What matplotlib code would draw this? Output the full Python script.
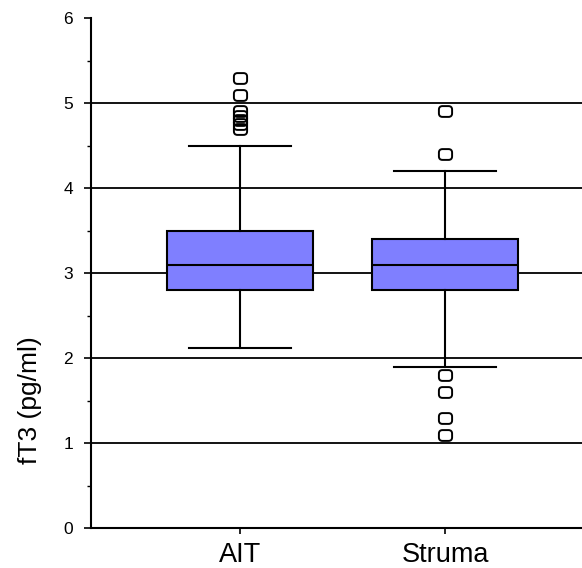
import matplotlib
matplotlib.use("Agg")
import matplotlib.pyplot as plt
from matplotlib.ticker import MultipleLocator
from matplotlib.patches import FancyBboxPatch

plt.rcParams['font.family'] = ['Liberation Sans', 'DejaVu Sans']

groups = ["AIT", "Struma"]
q1 = [2.8, 2.8]
median = [3.1, 3.1]
q3 = [3.5, 3.4]
whisker_low = [2.12, 1.9]
whisker_high = [4.5, 4.2]
outliers = [
    [5.3, 5.1, 4.9, 4.85, 4.8, 4.75, 4.7],
    [4.9, 4.4, 1.8, 1.6, 1.3, 1.1],
]

stats = []
for i, name in enumerate(groups):
    stats.append(dict(label=name, med=median[i], q1=q1[i], q3=q3[i],
                      whislo=whisker_low[i], whishi=whisker_high[i],
                      fliers=outliers[i]))

# rounded-square marker for the outlying points
rbox = FancyBboxPatch((-0.55, -0.45), 1.1, 0.9,
                      boxstyle="round,pad=0,rounding_size=0.3")
rbox_marker = rbox.get_path()

fig = plt.figure(figsize=(5.82, 5.68), dpi=100)
ax = fig.add_axes([91 / 582, 1 - 528 / 568, (582 - 91) / 582, (528 - 18) / 568])

ax.set_ylim(0, 6)
ax.set_xlim(0.273, 2.668)

for y in range(1, 6):
    ax.axhline(y, color='black', lw=1.3, zorder=0)

ax.bxp(stats, positions=[1, 2], widths=0.712, patch_artist=True,
       boxprops=dict(facecolor='#7f7fff', edgecolor='black', linewidth=1.5),
       medianprops=dict(color='black', linewidth=1.5),
       whiskerprops=dict(color='black', linewidth=1.5),
       capprops=dict(color='black', linewidth=1.5),
       capwidths=0.5,
       flierprops=dict(marker=rbox_marker, markersize=9.5, markerfacecolor='none',
                       markeredgecolor='black', markeredgewidth=1.4))

ax.spines['top'].set_visible(False)
ax.spines['right'].set_visible(False)
ax.spines['left'].set_linewidth(1.5)
ax.spines['bottom'].set_linewidth(1.5)

ax.yaxis.set_major_locator(MultipleLocator(1))
ax.yaxis.set_minor_locator(MultipleLocator(0.5))
ax.tick_params(axis='y', which='major', length=5, width=1.2, pad=8, labelsize=12.5)
ax.tick_params(axis='y', which='minor', length=3, width=1.0)
ax.tick_params(axis='x', which='major', length=4, width=1.2, pad=6, labelsize=19.5)
ax.set_xticks([1, 2])
ax.set_xticklabels(groups)

fig.text(30 / 582, 1 - 400 / 568, "fT3 (pg/ml)", rotation=90, fontsize=19,
         ha='center', va='center')

fig.savefig("out.png", dpi=100)
